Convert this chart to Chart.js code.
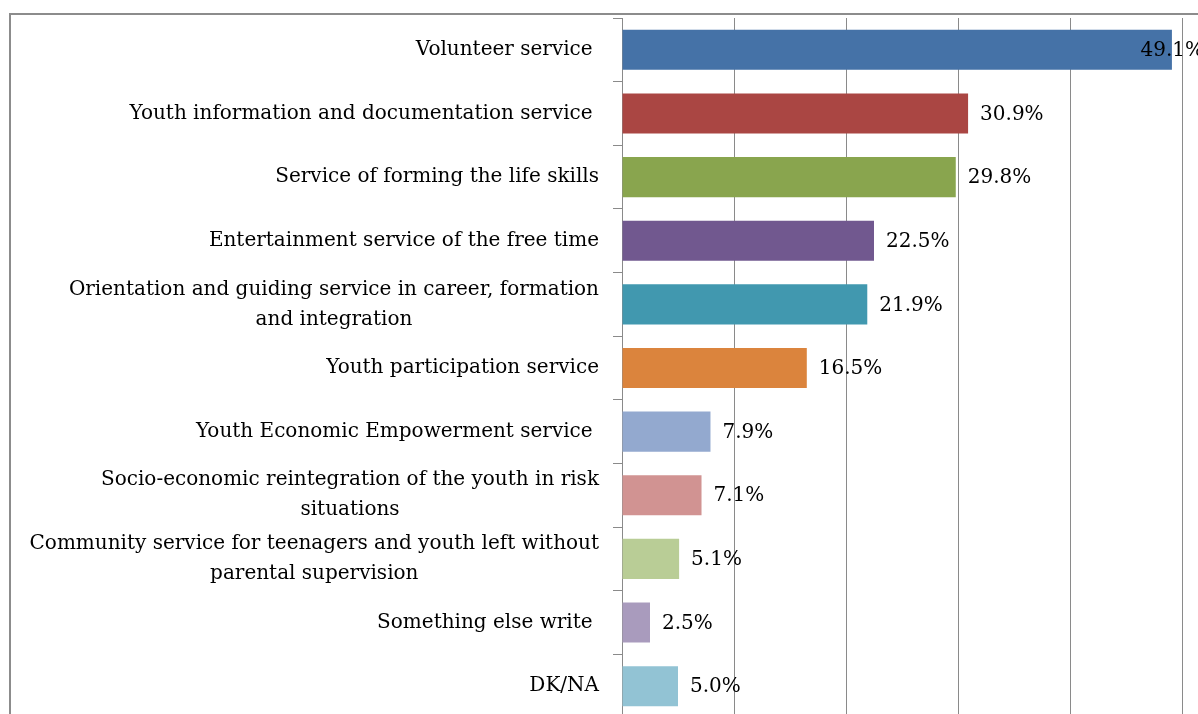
<!DOCTYPE html>
<html>
<head>
<meta charset="utf-8">
<script src="https://cdn.jsdelivr.net/npm/chart.js@4/dist/chart.umd.min.js"></script>
<style>
  html, body { margin: 0; padding: 0; background: #fff; overflow: hidden; width: 1198px; height: 714px; }
  #frame { position: absolute; left: 9px; top: 13px; width: 1300px; height: 800px; border: 2px solid #8c8c8c; }
  #wrap { position: absolute; left: 0; top: 0; }
</style>
</head>
<body>
<div id="frame"></div>
<div id="wrap"><canvas id="serviceChart" width="1320" height="740"></canvas></div>
<script>
// categories (multi-line ones as arrays, trailing spaces as in the source)
const categories = [
  "Volunteer service ",
  "Youth information and documentation service ",
  "Service of forming the life skills",
  "Entertainment service of the free time",
  ["Orientation and guiding service in career, formation", "and integration"],
  "Youth participation service",
  "Youth Economic Empowerment service ",
  ["Socio-economic reintegration of the youth in risk", "situations"],
  ["Community service for teenagers and youth left without", "parental supervision"],
  "Something else write ",
  "DK/NA"
];
const values = [49.1, 30.9, 29.8, 22.5, 21.9, 16.5, 7.9, 7.1, 5.1, 2.5, 5.0];
const valueLabels = ["49.1%", "30.9%", "29.8%", "22.5%", "21.9%", "16.5%", "7.9%", "7.1%", "5.1%", "2.5%", "5.0%"];
const barColors = ["#4572A7", "#AA4643", "#89A54E", "#71588F", "#4198AF", "#DB843D",
                   "#93A9CF", "#D19392", "#B9CD96", "#A99BBD", "#92C3D4"];

const FONT = '20px "DejaVu Serif"';

// category labels: right-aligned block, lines centered inside it (like Excel)
const catLabels = {
  id: "catLabels",
  afterDraw(chart) {
    const ctx = chart.ctx;
    const y = chart.scales.y;
    ctx.save();
    ctx.font = FONT;
    ctx.fillStyle = "#000";
    ctx.textAlign = "center";
    ctx.textBaseline = "middle";
    categories.forEach((lab, i) => {
      const lines = Array.isArray(lab) ? lab : [lab];
      const w = Math.max(...lines.map(l => ctx.measureText(l).width));
      const cx = 599 - w / 2;
      const cy = y.getPixelForValue(i);
      lines.forEach((l, j) => {
        ctx.fillText(l, cx, cy + (j - (lines.length - 1) / 2) * 30);
      });
    });
    ctx.restore();
  }
};

// value labels to the right of each bar
const valLabels = {
  id: "valLabels",
  afterDatasetsDraw(chart) {
    const ctx = chart.ctx;
    const meta = chart.getDatasetMeta(0);
    ctx.save();
    ctx.font = FONT;
    ctx.fillStyle = "#000";
    ctx.textAlign = "left";
    ctx.textBaseline = "middle";
    meta.data.forEach((bar, i) => {
      const t = valueLabels[i];
      const w = ctx.measureText(t).width;
      let x = bar.x + 12;
      if (x + w > 1204) x = 1204 - w;
      ctx.fillText(t, x, bar.y + 1);
    });
    ctx.restore();
  }
};

new Chart(document.getElementById("serviceChart"), {
  type: "bar",
  data: {
    labels: categories,
    datasets: [{
      data: values,
      backgroundColor: barColors,
      borderWidth: 0,
      barPercentage: 1,
      categoryPercentage: 0.63
    }]
  },
  options: {
    indexAxis: "y",
    responsive: false,
    animation: false,
    events: [],
    layout: { padding: { top: 18, left: 0, right: 26, bottom: 22 } },
    plugins: { legend: { display: false }, tooltip: { enabled: false }, title: { display: false } },
    scales: {
      x: {
        min: 0, max: 60,
        ticks: { display: false, stepSize: 10 },
        grid: { color: "#8a8a8a", lineWidth: 1, drawTicks: false },
        border: { display: false },
        afterFit(s) { s.height = 0; }
      },
      y: {
        ticks: { display: false },
        grid: { drawOnChartArea: false, drawTicks: true, tickLength: 9, color: "#8a8a8a" },
        border: { display: true, color: "#8a8a8a", width: 1 },
        afterFit(s) { s.width = 622; }
      }
    }
  },
  plugins: [catLabels, valLabels]
});
</script>
</body>
</html>
